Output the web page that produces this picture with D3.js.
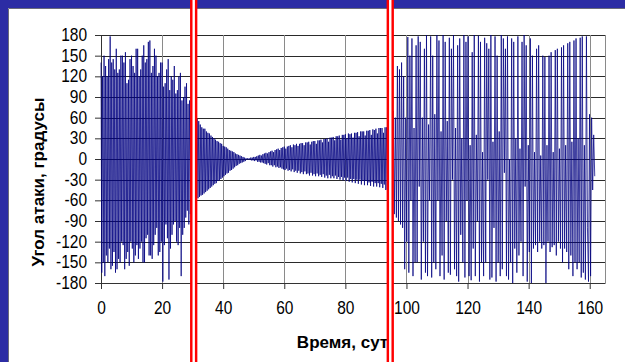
<!DOCTYPE html>
<html>
<head>
<meta charset="utf-8">
<script src="https://cdn.jsdelivr.net/npm/d3@7"></script>
<style>
  html, body { margin: 0; padding: 0; background: #2c2ca4; }
  svg { display: block; }
  .axis text { font-family: "Liberation Sans", Arial, sans-serif; font-size: 15.5px; fill: #000; }
  .title { font-family: "Liberation Sans", Arial, sans-serif; font-size: 17px; font-weight: bold; fill: #000; }
</style>
</head>
<body>
<div id="chart"></div>
<script>
// Угол атаки (градусы) по участкам: начало участка, шаг отсчётов (сут), значения

// 0 – 29.75 сут: сильные колебания
const phase1Start = 0, phase1Step = 0.25;
const phase1 = [
  140, -165, 120, -150, 150, -170, 135, -140,
  120, -150, 145, -130, 178, -160, 140, -155,
  145, -135, 130, -165, 160, -160, 125, -145,
  130, -150, 150, -120, 150, -125, 140, -160,
  155, -145, 110, -135, 115, -155, 145, -120,
  150, -130, 135, -150, 125, -140, 160, -125,
  160, -145, 120, -130, 130, -120, 150, -150,
  165, -150, 140, -115, 145, -110, 170, -140,
  172, -140, 125, -145, 135, -125, 160, -110,
  150, -100, 120, -140, 125, -135, 140, -120,
  140, -178, 105, -125, 110, -95, 130, -115,
  145, -175, 100, -130, 120, -110, 115, -95,
  135, -90, 95, -120, 100, -125, 120, -100,
  125, -170, 85, -110, 90, -100, 105, -85,
  110, -75, 80, -95, 85, -80, 70, -65
];

// 30 – 47.75 сут: затухание
const phase2Start = 30, phase2Step = 0.25;
const phase2 = [
  82, -78, 70, -66, 60, -62, 58, -57,
  55, -55, 50, -53, 46, -52, 44, -50,
  44, -48, 40, -46, 38, -44, 37, -42,
  34, -40, 32, -38, 30, -36, 28, -35,
  26, -32, 25, -31, 23, -29, 22, -27,
  19, -25, 18, -23, 17, -21, 15, -20,
  13, -17, 12, -16, 11, -14, 10, -12,
  8, -10, 7, -9, 6, -7, 5, -6,
  4, -5, 3, -4, 2, -3, 1, -1
];

// 48 – 94.75 сут: раскачка
const phase3Start = 48, phase3Step = 0.25;
const phase3 = [
  1, -1, 1, -1, 2, -2, 2, -2,
  3, -3, 3, -2, 4, -4, 5, -4,
  6, -5, 5, -5, 7, -6, 8, -7,
  9, -8, 8, -6, 10, -9, 11, -9,
  12, -11, 10, -9, 13, -12, 14, -11,
  15, -13, 13, -12, 16, -14, 17, -15,
  18, -16, 15, -14, 18, -17, 19, -16,
  20, -18, 17, -15, 21, -19, 20, -17,
  22, -20, 19, -17, 22, -21, 23, -19,
  23, -22, 20, -18, 24, -22, 24, -21,
  25, -24, 21, -20, 25, -24, 26, -22,
  26, -25, 22, -21, 27, -25, 27, -23,
  28, -26, 24, -22, 29, -27, 29, -24,
  30, -28, 25, -23, 31, -28, 31, -25,
  32, -28, 27, -24, 33, -29, 33, -26,
  34, -30, 28, -26, 35, -31, 35, -27,
  36, -32, 30, -27, 37, -33, 36, -29,
  37, -34, 31, -29, 38, -35, 38, -30,
  39, -36, 33, -30, 40, -37, 40, -32,
  40, -38, 34, -32, 41, -38, 41, -34,
  42, -39, 35, -33, 43, -40, 42, -35,
  44, -40, 37, -35, 45, -41, 45, -36,
  45, -42, 38, -37, 46, -45, 46, -44,
  40, -48, 38, -44
];

// 95 – 161.6 сут: вращение
const phase4Start = 95, phase4Step = 0.34;
const phase4 = [
  40, -45, 70, -80, 60, -85, 135, -90, 130, -95,
  140, -100, 120, -160, 60, -120, 177, -165, 150, -60,
  175, -170, 45, -150, 165, -150, 178, -40, 170, -175,
  60, -120, 160, -165, 180, -170, 50, -60, 178, -172,
  150, -150, 65, -160, 180, -60, 172, -170, 40, -140,
  180, -175, 170, -90, 55, -165, 176, -168, 160, -30,
  180, -160, 45, -170, 165, -178, 175, -110, 30, -150,
  180, -172, 170, -60, 178, -170, 20, -176, 155, -130,
  180, -170, 35, -90, 179, -178, 170, -150, 10, -170,
  176, -150, 168, -30, 160, -175, 180, -172, 25, -100,
  178, -178, 150, -150, 40, -170, 180, -160, 175, -20,
  160, -170, 178, -175, 0, -150, 175, -180, 170, -130,
  30, -165, 178, -140, 15, -120, 170, -170, 180, -40,
  165, -178, 20, -135, 175, -180, 150, -130, 10, -125,
  160, -135, 165, -120, 5, -130, 150, -125, 148, -180,
  20, -120, 150, -135, 155, -128, 10, -125, 158, -140,
  160, -120, 15, -130, 162, -150, 165, -130, 20, -135,
  168, -160, 170, -140, 25, -170, 172, -150, 175, -160,
  30, -150, 176, -172, 178, -165, 20, -175, 178, -100,
  -178, 65, -170, 60, -45, 35, -25
];

const xTicks = [0, 20, 40, 60, 80, 100, 120, 140, 160];
const yTicks = [-180, -150, -120, -90, -60, -30, 0, 30, 60, 90, 120, 150, 180];
const markerDays = [30.35, 94.7];

const W = 625, H = 362;

const phases = [
  { start: phase1Start, step: phase1Step, values: phase1 },
  { start: phase2Start, step: phase2Step, values: phase2 },
  { start: phase3Start, step: phase3Step, values: phase3 },
  { start: phase4Start, step: phase4Step, values: phase4 }
];
const points = [];
phases.forEach(p => p.values.forEach((v, i) => points.push({ t: p.start + i * p.step, v })));

const svg = d3.select('#chart').append('svg')
  .attr('width', W)
  .attr('height', H);

// белая подложка слайда
svg.append('rect')
  .attr('x', 8).attr('y', 8)
  .attr('width', W - 8).attr('height', H - 8)
  .attr('fill', '#fff');
svg.append('path')
  .attr('d', `M8.5,${H}V8.5H${W}`)
  .attr('fill', 'none')
  .attr('stroke', '#6a6a7a');

const x = d3.scaleLinear().domain([0, 165]).range([101, 605]);
const y = d3.scaleLinear().domain([-180, 180]).range([283, 35]);
const crisp = v => Math.round(v) + 0.5;

// сетка
svg.append('g')
  .selectAll('line')
  .data(yTicks.filter(d => d > -180))
  .enter()
  .append('line')
  .attr('x1', x(0)).attr('x2', x(165))
  .attr('y1', d => crisp(y(d))).attr('y2', d => crisp(y(d)))
  .attr('stroke', '#2a2a2a');

svg.append('g')
  .selectAll('line')
  .data(xTicks.filter(d => d > 0).concat([165]))
  .enter()
  .append('line')
  .attr('x1', d => crisp(x(d))).attr('x2', d => crisp(x(d)))
  .attr('y1', y(180)).attr('y2', y(-180))
  .attr('stroke', '#8a8a8a');

// оси
const xAxis = svg.append('g')
  .attr('class', 'axis')
  .attr('transform', `translate(0,${y(-180)})`)
  .attr('color', '#333')
  .call(d3.axisBottom(x).tickValues(xTicks).tickSize(6).tickSizeOuter(0).tickPadding(10).tickFormat(d => String(d)));
xAxis.selectAll('text').attr('transform', 'scale(1,1.13)');

const yAxis = svg.append('g')
  .attr('class', 'axis')
  .attr('transform', `translate(${x(0)},0)`)
  .attr('color', '#333')
  .call(d3.axisLeft(y).tickValues(yTicks).tickSize(6).tickSizeOuter(0).tickPadding(8).tickFormat(d => String(d)));
yAxis.selectAll('text').attr('transform', 'scale(1,1.13)');

// кривая угла атаки
const line = d3.line()
  .x(d => x(d.t))
  .y(d => y(d.v));

svg.append('path')
  .datum(points)
  .attr('d', line)
  .attr('fill', 'none')
  .attr('stroke', '#000080')
  .attr('stroke-width', 0.75);

// подписи осей
svg.append('text')
  .attr('class', 'title')
  .attr('x', 342.5).attr('y', 348)
  .attr('text-anchor', 'middle')
  .text('Время, сут');

svg.append('text')
  .attr('class', 'title')
  .attr('transform', 'translate(44,182) rotate(-90)')
  .attr('text-anchor', 'middle')
  .text('Угол атаки, градусы');

// двойные красные границы участков
const marks = svg.append('g');
marks.selectAll('.m-red')
  .data(markerDays)
  .enter()
  .append('line')
  .attr('x1', d => x(d)).attr('x2', d => x(d))
  .attr('y1', 0).attr('y2', H)
  .attr('stroke', '#ff0000')
  .attr('stroke-width', 7.3);
marks.selectAll('.m-white')
  .data(markerDays)
  .enter()
  .append('line')
  .attr('x1', d => x(d)).attr('x2', d => x(d))
  .attr('y1', 0).attr('y2', H)
  .attr('stroke', '#fff')
  .attr('stroke-width', 2.4);
</script>
</body>
</html>
